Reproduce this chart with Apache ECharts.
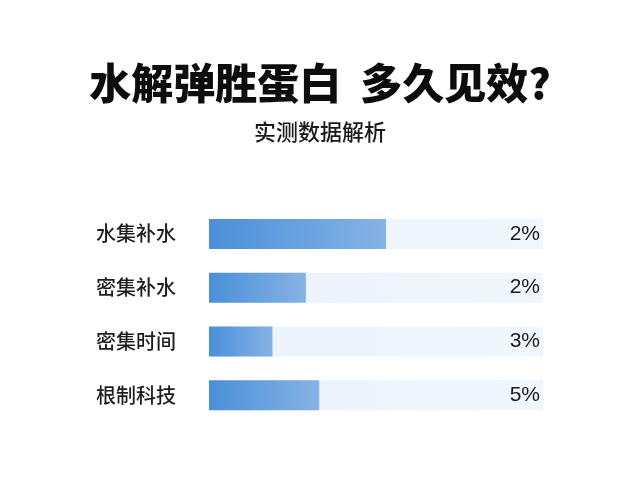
<!DOCTYPE html>
<html>
<head>
<meta charset="utf-8">
<script src="https://cdn.jsdelivr.net/npm/echarts@6/dist/echarts.min.js"></script>
<style>
html,body{margin:0;padding:0;background:#ffffff;}
#chart{width:640px;height:480px;}
</style>
</head>
<body>
<div id="chart"></div>
<script>
var categories = ['水集补水', '密集补水', '密集时间', '根制科技'];
var barValues = [53, 29, 19, 33];
var valueLabels = ['2%', '2%', '3%', '5%'];
var trackMax = 100;

var chart = echarts.init(document.getElementById('chart'));
var font = '"Noto Sans CJK SC", "Noto Sans", sans-serif';
chart.setOption({
  backgroundColor: '#ffffff',
  title: [{
    text: '水解弹胜蛋白  多久见效?',
    left: 'center',
    top: 57,
    textStyle: {fontFamily: font, fontSize: 42, fontWeight: 900, color: '#0d0d0d'}
  }, {
    text: '实测数据解析',
    left: 'center',
    top: 116,
    textStyle: {fontFamily: font, fontSize: 22, fontWeight: 500, color: '#1a1a1a'}
  }],
  grid: {left: 209, right: 97, top: 207, bottom: 58},
  xAxis: {type: 'value', min: 0, max: trackMax, show: false},
  yAxis: {
    type: 'category',
    data: categories,
    inverse: true,
    axisLine: {show: false},
    axisTick: {show: false},
    axisLabel: {align: 'left', margin: 113, fontFamily: font, fontSize: 20, fontWeight: 500, color: '#1e1e1e'}
  },
  series: [{
    type: 'bar',
    data: categories.map(function(){ return trackMax; }),
    barWidth: 30,
    barGap: '-100%',
    silent: true,
    itemStyle: {
      color: new echarts.graphic.LinearGradient(0, 0, 1, 0, [
        {offset: 0, color: '#eaf2fc'},
        {offset: 1, color: '#f1f7fe'}
      ])
    },
    label: {
      show: true,
      position: 'insideRight',
      distance: 3,
      fontFamily: '"Liberation Sans", Arial, sans-serif',
      fontSize: 21,
      color: '#1a1a1a',
      formatter: function(p){ return valueLabels[p.dataIndex]; }
    },
    z: 1
  }, {
    type: 'bar',
    data: barValues,
    barWidth: 30,
    itemStyle: {
      color: new echarts.graphic.LinearGradient(0, 0, 1, 0, [
        {offset: 0, color: '#4a8fd8'},
        {offset: 1, color: '#86b3e5'}
      ])
    },
    z: 2
  }]
});
</script>
</body>
</html>
